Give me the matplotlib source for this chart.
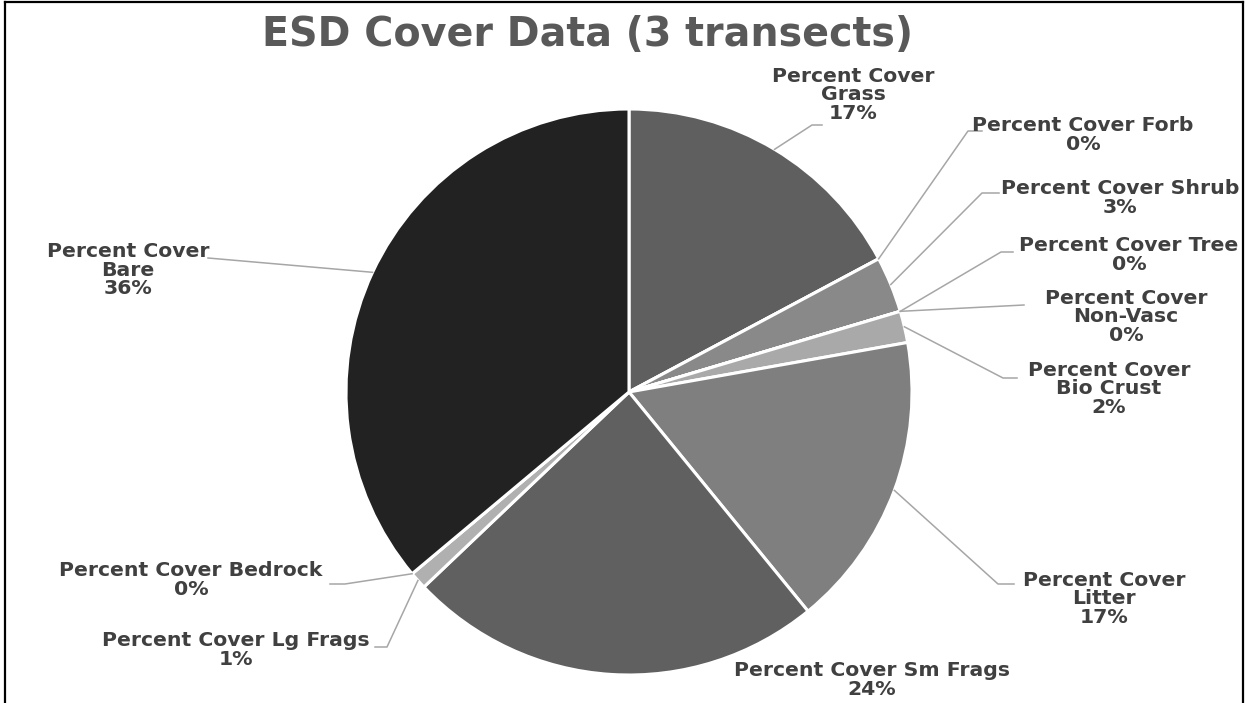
import numpy as np
import matplotlib.pyplot as plt
from matplotlib.lines import Line2D

W, H = 1247, 703

# --- data (percent cover, clockwise from 12 o'clock) ---
names = ["Grass", "Forb", "Shrub", "Tree", "Non-Vasc", "Bio Crust",
         "Litter", "Sm Frags", "Lg Frags", "Bedrock", "Bare"]
cover = [17.2, 0.0, 3.2, 0.0, 0.0, 1.8, 16.9, 23.8, 1.0, 0.0, 36.1]
pct_text = ["17%", "0%", "3%", "0%", "0%", "2%", "17%", "24%", "1%", "0%", "36%"]
label_text = ["Percent Cover\nGrass", "Percent Cover Forb", "Percent Cover Shrub",
              "Percent Cover Tree", "Percent Cover\nNon-Vasc", "Percent Cover\nBio Crust",
              "Percent Cover\nLitter", "Percent Cover Sm Frags", "Percent Cover Lg Frags",
              "Percent Cover Bedrock", "Percent Cover\nBare"]
colors = ["#5f5f5f", "#8a8a8a", "#898989", "#a0a0a0", "#a4a4a4", "#a9a9a9",
          "#7f7f7f", "#606060", "#b0b0b0", "#c0c0c0", "#222222"]

# --- layout (figure pixels, y measured from the top) ---
CX, CY, R = 629, 392, 283
label_pos = {  # text block centre
    "Grass": (853, 95), "Forb": (1083, 135), "Shrub": (1120, 198),
    "Tree": (1129, 255), "Non-Vasc": (1126, 317), "Bio Crust": (1109, 389),
    "Litter": (1104, 599), "Sm Frags": (872, 680), "Lg Frags": (236, 650),
    "Bedrock": (191, 580), "Bare": (128, 270),
}
leader = {  # elbow and end of the leader line
    "Grass": [(812, 125), (822, 125)],
    "Forb": [(968, 131), (982, 131)],
    "Shrub": [(982, 193), (999, 193)],
    "Tree": [(1001, 252), (1013, 252)],
    "Non-Vasc": [(1024, 305)],
    "Bio Crust": [(1003, 378), (1017, 378)],
    "Litter": [(998, 584), (1014, 584)],
    "Lg Frags": [(387, 647), (375, 647)],
    "Bedrock": [(345, 584), (330, 584)],
    "Bare": [(208, 258)],
}

TEXT = "#404040"
FONT = "DejaVu Sans"


def fy(y):
    return H - y


fig = plt.figure(figsize=(W / 100, H / 100), dpi=100)
ax = fig.add_axes([0, 0, 1, 1])

wedges, _ = ax.pie(cover, colors=colors, startangle=90, counterclock=False,
                   center=(CX, fy(CY)), radius=R,
                   wedgeprops=dict(edgecolor="white", linewidth=2.2))
ax.set_xlim(0, W)
ax.set_ylim(0, H)
ax.set_aspect("auto")
ax.axis("off")

for i, name in enumerate(names):
    w = wedges[i]
    mid = np.deg2rad((w.theta1 + w.theta2) / 2)
    ax_, ay_ = CX + R * np.cos(mid), fy(CY) + R * np.sin(mid)
    if name in leader:
        pts = [(ax_, ay_)] + [(x, fy(y)) for x, y in leader[name]]
        xs, ys = zip(*pts)
        ax.add_line(Line2D(xs, ys, color="#a6a6a6", linewidth=1.1, zorder=1))
    lx, ly = label_pos[name]
    ax.text(lx, fy(ly), label_text[i] + "\n" + pct_text[i], ha="center", va="center",
            fontsize=14.7, fontweight="bold", color=TEXT, family=FONT,
            linespacing=0.99)

fig.text(587 / W, fy(35) / H, "ESD Cover Data (3 transects)", ha="center", va="center",
         fontsize=28.5, fontweight="bold", color="#595959", family=FONT)

# chart border (open at the bottom)
for xs, ys in [((5, 5), (-10, 2)), ((5, 1243), (2, 2)), ((1243, 1243), (2, -10))]:
    fig.add_artist(Line2D([x / W for x in xs], [fy(y) / H if y >= 0 else -0.02 for y in ys],
                          color="black", linewidth=1.6))

fig.savefig("out.png", dpi=100, facecolor="white")
